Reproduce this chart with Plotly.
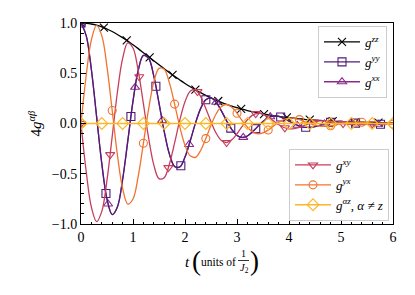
import plotly.graph_objects as go

# ---- data ----
t_line = [0.0, 0.1, 0.2, 0.3, 0.4, 0.5, 0.6, 0.7, 0.8, 0.9,
          1.0, 1.1, 1.2, 1.3, 1.4, 1.5, 1.6, 1.7, 1.8, 1.9,
          2.0, 2.1, 2.2, 2.3, 2.4, 2.5, 2.6, 2.7, 2.8, 2.9,
          3.0, 3.1, 3.2, 3.3, 3.4, 3.5, 3.6, 3.7, 3.8, 3.9,
          4.0, 4.1, 4.2, 4.3, 4.4, 4.5, 4.6, 4.7, 4.8, 4.9,
          5.0, 5.1, 5.2, 5.3, 5.4, 5.5, 5.6, 5.7, 5.8, 5.9, 6.0]

g_zz_line = [1.000, 0.997, 0.990, 0.978, 0.961, 0.940, 0.915, 0.886, 0.854, 0.820,
             0.783, 0.745, 0.705, 0.665, 0.625, 0.585, 0.545, 0.506, 0.469, 0.433,
             0.398, 0.366, 0.336, 0.307, 0.280, 0.255, 0.232, 0.211, 0.191, 0.173,
             0.157, 0.142, 0.129, 0.117, 0.106, 0.096, 0.087, 0.079, 0.071, 0.064,
             0.058, 0.052, 0.047, 0.042, 0.038, 0.034, 0.031, 0.028, 0.025, 0.022,
             0.020, 0.018, 0.016, 0.014, 0.013, 0.012, 0.010, 0.009, 0.008, 0.007, 0.006]

g_yy_line = [1.000, 0.875, 0.535, 0.069, -0.400, -0.753, -0.906, -0.830, -0.558, -0.173,
             0.222, 0.528, 0.677, 0.649, 0.471, 0.203, -0.079, -0.305, -0.427, -0.432,
             -0.334, -0.174, 0.001, 0.148, 0.236, 0.254, 0.211, 0.126, 0.026, -0.060,
             -0.119, -0.139, -0.124, -0.082, -0.029, 0.021, 0.057, 0.074, 0.070, 0.050,
             0.024, -0.004, -0.026, -0.038, -0.038, -0.030, -0.017, -0.002, 0.011, 0.018,
             0.020, 0.017, 0.010, 0.003, -0.004, -0.009, -0.010, -0.009, -0.006, -0.002, 0.001]

g_xx_line = [1.000, 0.875, 0.535, 0.069, -0.400, -0.753, -0.906, -0.830, -0.558, -0.173,
             0.222, 0.528, 0.677, 0.649, 0.471, 0.203, -0.079, -0.305, -0.427, -0.432,
             -0.334, -0.174, 0.001, 0.148, 0.236, 0.254, 0.211, 0.126, 0.026, -0.060,
             -0.119, -0.139, -0.124, -0.082, -0.029, 0.021, 0.057, 0.074, 0.070, 0.050,
             0.024, -0.004, -0.026, -0.038, -0.038, -0.030, -0.017, -0.002, 0.011, 0.018,
             0.020, 0.017, 0.010, 0.003, -0.004, -0.009, -0.010, -0.009, -0.006, -0.002, 0.001]

g_yx_line = [0.000, 0.478, 0.833, 0.976, 0.874, 0.563, 0.129, -0.311, -0.646, -0.802,
             -0.751, -0.526, -0.197, 0.143, 0.411, 0.549, 0.539, 0.404, 0.193, -0.033,
             -0.217, -0.322, -0.336, -0.269, -0.150, -0.017, 0.097, 0.170, 0.189, 0.162,
             0.102, 0.029, -0.037, -0.083, -0.102, -0.094, -0.065, -0.026, 0.011, 0.040,
             0.053, 0.052, 0.039, 0.019, 0.000, -0.017, -0.026, -0.028, -0.023, -0.013,
             -0.003, 0.007, 0.012, 0.014, 0.012, 0.008, 0.003, -0.002, -0.005, -0.007, -0.006]

g_xy_line = [0.000, -0.478, -0.833, -0.976, -0.874, -0.563, -0.129, 0.311, 0.646, 0.802,
             0.751, 0.526, 0.197, -0.143, -0.411, -0.549, -0.539, -0.404, -0.193, 0.033,
             0.217, 0.322, 0.336, 0.269, 0.150, 0.017, -0.097, -0.170, -0.189, -0.162,
             -0.102, -0.029, 0.037, 0.083, 0.102, 0.094, 0.065, 0.026, -0.011, -0.040,
             -0.053, -0.052, -0.039, -0.019, 0.000, 0.017, 0.026, 0.028, 0.023, 0.013,
             0.003, -0.007, -0.012, -0.014, -0.012, -0.008, -0.003, 0.002, 0.005, 0.007, 0.006]

# marker samples
t_zz_mk = [0.0, 0.44, 0.88, 1.32, 1.76, 2.20, 2.64, 3.08, 3.52, 3.96, 4.40, 4.84, 5.28, 5.72]
g_zz_mk = [1.000, 0.953, 0.827, 0.657, 0.484, 0.336, 0.224, 0.145, 0.094, 0.060, 0.038, 0.024, 0.014, 0.009]

t_yy_mk = [0.0, 0.48, 0.96, 1.44, 1.92, 2.40, 2.88, 3.36, 3.84, 4.32, 4.80, 5.28, 5.76]
g_yy_mk = [1.000, -0.696, 0.070, 0.370, -0.420, 0.236, -0.046, -0.051, 0.064, -0.038, 0.011, 0.004, -0.007]

t_xx_mk = [0.0, 0.52, 1.04, 1.56, 2.08, 2.60, 3.12, 3.64, 4.16, 4.68, 5.20, 5.72]
g_xx_mk = [1.000, -0.801, 0.360, 0.030, -0.209, 0.211, -0.138, 0.067, -0.018, -0.005, 0.010, -0.008]

t_xy_mk = [0.0, 0.56, 1.12, 1.68, 2.24, 2.80, 3.36, 3.92, 4.48, 5.04, 5.60]
g_xy_mk = [0.000, -0.310, 0.465, -0.439, 0.317, -0.189, 0.098, -0.043, 0.014, -0.001, -0.003]

t_yx_mk = [0.0, 0.6, 1.2, 1.8, 2.4, 3.0, 3.6, 4.2, 4.8, 5.4, 6.0]
g_yx_mk = [0.000, 0.129, -0.197, 0.193, -0.150, 0.102, -0.065, 0.039, -0.023, 0.012, -0.006]

t_az = [0.0, 0.4, 0.8, 1.2, 1.6, 2.0, 2.4, 2.8, 3.2, 3.6, 4.0, 4.4, 4.8, 5.2, 5.6, 6.0]
g_az = [0.0, 0.0, 0.0, 0.0, 0.0, 0.0, 0.0, 0.0, 0.0, 0.0, 0.0, 0.0, 0.0, 0.0, 0.0, 0.0]

y_ticks = [-1.0, -0.5, 0.0, 0.5, 1.0]
x_ticks = [0, 1, 2, 3, 4, 5, 6]

# ---- styles ----
FONT = "Liberation Serif"
C_ZZ = "#000000"
C_YY = "#4f1c7a"
C_XX = "#8b2b88"
C_XY = "#c73e5d"
C_YX = "#f0742f"
C_AZ = "#fbb62a"
LW = 1.3
MS = 8

# (legend name, line t, line g, marker t, marker g, colour, symbol, legend, legend rank)
series = [
    ("<i>g</i><sup><i>zz</i></sup>", t_line, g_zz_line, t_zz_mk, g_zz_mk, C_ZZ, "x-thin-open", "legend", 1),
    ("<i>g</i><sup><i>xx</i></sup>", t_line, g_xx_line, t_xx_mk, g_xx_mk, C_XX, "triangle-up-open", "legend", 3),
    ("<i>g</i><sup><i>yy</i></sup>", t_line, g_yy_line, t_yy_mk, g_yy_mk, C_YY, "square-open", "legend", 2),
    ("<i>g</i><sup><i>xy</i></sup>", t_line, g_xy_line, t_xy_mk, g_xy_mk, C_XY, "triangle-down-open", "legend2", 4),
    ("<i>g</i><sup><i>yx</i></sup>", t_line, g_yx_line, t_yx_mk, g_yx_mk, C_YX, "circle-open", "legend2", 5),
    ("<i>g</i><sup><i>αz</i></sup>, <i>α</i> ≠ <i>z</i>", t_az, g_az, t_az, g_az, C_AZ, "diamond-open", "legend2", 6),
]

fig = go.Figure()
for name, tl, gl, tm, gm, col, sym, leg, rank in series:
    msize = MS + 1 if sym == "diamond-open" else MS
    fig.add_trace(go.Scatter(x=tl, y=gl, mode="lines", line=dict(color=col, width=LW, shape="spline"),
                             showlegend=False, hoverinfo="skip"))
    fig.add_trace(go.Scatter(x=tm, y=gm, mode="markers",
                             marker=dict(symbol=sym, size=msize, color=col, line=dict(color=col, width=1.1)),
                             showlegend=False))
    fig.add_trace(go.Scatter(x=[None], y=[None], mode="lines+markers", name=name, legend=leg,
                             legendrank=rank,
                             line=dict(color=col, width=LW),
                             marker=dict(symbol=sym, size=msize, color=col, line=dict(color=col, width=1.1))))

axis_common = dict(
    showline=True, linecolor="black", linewidth=1, mirror=True,
    ticks="inside", ticklen=5, tickwidth=1, tickcolor="black",
    showgrid=False, zeroline=False, automargin=False,
    tickfont=dict(family=FONT, size=14, color="black"),
)

fig.update_xaxes(range=[0, 6], tickvals=x_ticks,
                 minor=dict(ticks="inside", ticklen=2.5, tickcolor="black", dtick=0.2, tick0=0, showgrid=False),
                 **axis_common)
fig.update_yaxes(range=[-1, 1], tickvals=y_ticks, tickformat=".1f",
                 minor=dict(ticks="inside", ticklen=2.5, tickcolor="black", dtick=0.1, tick0=0, showgrid=False),
                 title=dict(text="4<i>g</i><sup><i>αβ</i></sup>", font=dict(family=FONT, size=15, color="black"), standoff=6),
                 **axis_common)

legend_common = dict(
    bgcolor="rgba(255,255,255,0.9)", bordercolor="#cccccc", borderwidth=1,
    font=dict(family=FONT, size=13, color="black"),
    xanchor="right", tracegroupgap=0, itemwidth=36,
)

# The page body has an 8px margin, so the figure is offset by 8px; target
# pixel positions below are in window coordinates.
OFF = 8
W, H = 415 - OFF, 295 - OFF
PL, PT, PW, PH = 81 - OFF, 23 - OFF, 312, 201


def px(x):
    return (x - OFF - PL) / PW


def py(y):
    return (PT + PH - (y - OFF)) / PH


annots = [
    dict(text="<i>t</i>", x=px(187), y=py(262), size=15),
    dict(text="(", x=px(196.5), y=py(261), size=27),
    dict(text="units of", x=px(218.5), y=py(262), size=11.5),
    dict(text="1", x=px(243), y=py(253.5), size=10),
    dict(text="<i>J</i><sub>2</sub>", x=px(244), y=py(268.5), size=10.5),
    dict(text=")", x=px(254), y=py(261), size=27),
]
for a in annots:
    fig.add_annotation(text=a["text"], x=a["x"], y=a["y"], xref="paper", yref="paper",
                       xanchor="center", yanchor="middle", showarrow=False,
                       font=dict(family=FONT, size=a["size"], color="black"))
fig.add_shape(type="line", xref="paper", yref="paper", x0=px(238), x1=px(249), y0=py(260.5), y1=py(260.5),
              line=dict(color="black", width=0.8))

fig.update_layout(
    width=W, height=H,
    margin=dict(l=PL, r=W - PL - PW, t=PT, b=H - PT - PH, autoexpand=False),
    paper_bgcolor="white", plot_bgcolor="white",
    font=dict(family=FONT, color="black"),
    legend=dict(x=px(387), y=py(26), yanchor="top", **legend_common),
    legend2=dict(x=px(389), y=py(221), yanchor="bottom", **legend_common),
)

fig.write_html("out.html")
